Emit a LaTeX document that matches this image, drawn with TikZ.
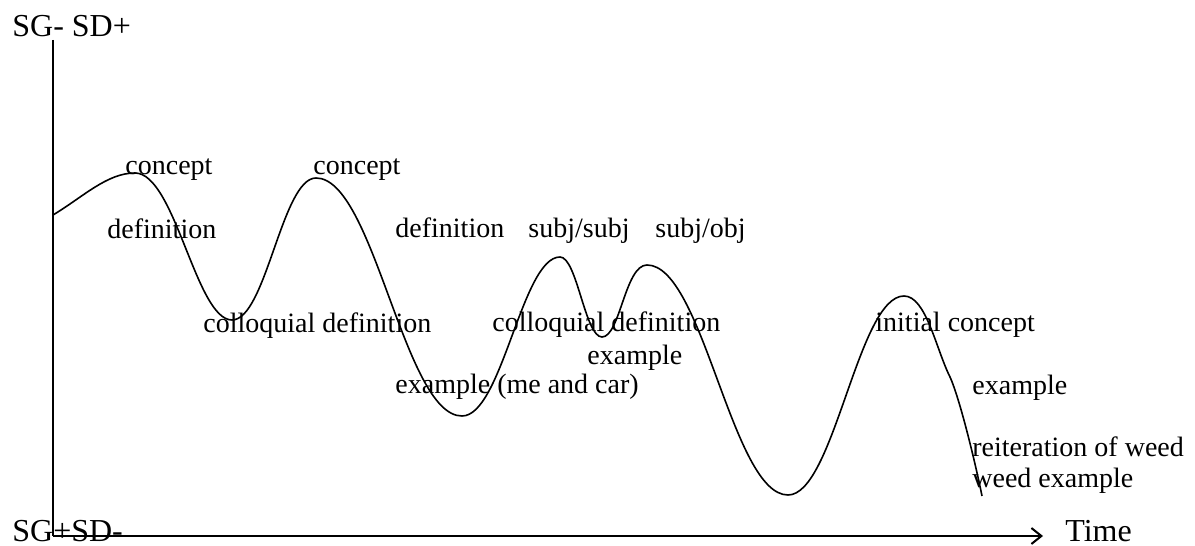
\documentclass[tikz,border=0pt]{standalone}
\usepackage{fontspec}
\setmainfont{Liberation Serif}
\usetikzlibrary{arrows.meta}

\tikzset{
    lbl/.style={anchor=base west, inner sep=0pt, font=\fontsize{14}{16}\selectfont},
    axlbl/.style={anchor=base west, inner sep=0pt, font=\fontsize{16}{18}\selectfont},
    axis/.style={line width=1pt},
    wave/.style={line width=0.8pt}
}

\begin{document}
\begin{tikzpicture}[x=0.5pt, y=0.5pt]
    \useasboundingbox (0,0) rectangle (1195,546);
    % Axes
    \coordinate (o) at (53,10);
    \coordinate (ytop) at (53,506);
    \coordinate (xend) at (1043,10);
    \draw[axis] (ytop) -- (o);
    \draw[axis, -{Straight Barb[length=5pt,width=8pt]}] (o) -- (xend);
    \node[axlbl] (sgtop) at (12,509) {SG- SD+};
    \node[axlbl] (sgbot) at (12,4) {SG+SD-};
    \node[axlbl] (time) at (1065,4) {Time};
    % Wave
    \coordinate (a) at (53,331);
    \coordinate (p1) at (135,373);
    \coordinate (m1) at (232,226);
    \coordinate (p2) at (316,368);
    \coordinate (m2) at (462,130);
    \coordinate (p3) at (560,289);
    \coordinate (m3) at (602,209);
    \coordinate (p4) at (647,281);
    \coordinate (m4) at (788,51);
    \coordinate (p5) at (904,250);
    \coordinate (k) at (950,169);
    \coordinate (e) at (982,50);
    \draw[wave] (a) .. controls +(30,18) and +(-28,0) .. (p1)
        .. controls +(40,0) and +(-36,0) .. (m1)
        .. controls +(34,0) and +(-34,0) .. (p2)
        .. controls +(58,0) and +(-58,0) .. (m2)
        .. controls +(40,0) and +(-38,0) .. (p3)
        .. controls +(17,0) and +(-17,0) .. (m3)
        .. controls +(18,0) and +(-22,0) .. (p4)
        .. controls +(56,0) and +(-56,0) .. (m4)
        .. controls +(46,0) and +(-46,0) .. (p5)
        .. controls +(22,0) and +(-14,28) .. (k)
        .. controls +(10,-22) and +(-6,30) .. (e);
    % Labels
    \node[lbl] (concepta) at (125,371) {concept};
    \node[lbl] (conceptb) at (313,371) {concept};
    \node[lbl] (defa) at (107,307) {definition};
    \node[lbl] (defb) at (395,308) {definition};
    \node[lbl] (subjsubj) at (528,308) {subj/subj};
    \node[lbl] (subjobj) at (655,308) {subj/obj};
    \node[lbl] (colla) at (203,213) {colloquial definition};
    \node[lbl] (collb) at (492,214) {colloquial definition};
    \node[lbl] (exmid) at (587,181) {example};
    \node[lbl] (excar) at (395,152) {example (me and car)};
    \node[lbl] (initial) at (875,214) {initial concept};
    \node[lbl] (exright) at (972,151) {example};
    \node[lbl] (reit) at (972,89) {reiteration of weed};
    \node[lbl] (weed) at (972,58) {weed example};
\end{tikzpicture}
\end{document}
